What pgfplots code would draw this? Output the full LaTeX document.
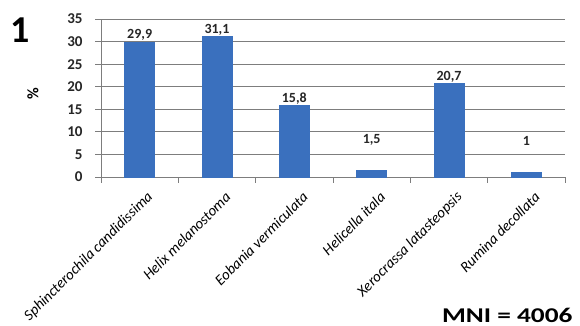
\documentclass[border=0pt]{standalone}
\usepackage{pgfplots}
\pgfplotsset{compat=1.18}
\usepackage{fontspec}
\setmainfont{Carlito}
\definecolor{barblue}{RGB}{58,112,190}
\definecolor{gridgray}{RGB}{125,125,125}
\begin{document}
\begin{tikzpicture}
\useasboundingbox (0,0) rectangle (580bp,326bp);
\begin{axis}[
  at={(101bp,149bp)}, anchor=south west,
  scale only axis, width=464bp, height=158bp,
  xmin=-0.5, xmax=5.5, ymin=0, ymax=35,
  ytick={0,5,...,35},
  ymajorgrids, grid style={gridgray, line width=1pt},
  axis x line*=bottom, axis y line*=left,
  axis line style={gridgray, line width=1pt},
  xtick={0,...,5},
  xticklabels={Sphincterochila candidissima, Helix melanostoma, Eobania vermiculata, Helicella itala, Xerocrassa latasteopsis, Rumina decollata},
  major x tick style={draw=none},
  minor xtick={-0.5,0.5,...,5.5},
  minor tick length=6bp,
  major tick length=6bp,
  tick style={gridgray, line width=1pt},
  xtick align=outside, ytick align=outside,
  xticklabel style={font=\fontsize{15bp}{16bp}\selectfont\itshape, rotate=45, anchor=east, xshift=3bp, yshift=-16bp},
  yticklabel style={font=\fontsize{15bp}{16bp}\selectfont\bfseries, color=black!85, anchor=east, xshift=-9bp},
  /pgf/number format/assume math mode=true,
  ybar, bar width=30bp,
  clip=false,
]
\addplot[fill=barblue, draw=barblue] coordinates {(0,29.9) (1,31.1) (2,15.8) (3,1.5) (4,20.7) (5,1)};
\addplot[draw=none, fill=none, only marks, mark=none,
  nodes near coords, point meta=explicit symbolic,
  nodes near coords style={font=\fontsize{14bp}{15bp}\selectfont\bfseries, color=black!85, anchor=south, yshift=-2bp}]
  coordinates {(0,29.9)[29,9] (1,31.1)[31,1] (2,15.8)[15,8] (3,6.6)[1,5] (4,20.7)[20,7] (5,6.6)[1]};
\end{axis}
\node[font=\fontsize{38bp}{40bp}\selectfont\bfseries] at (20bp,296bp) {1};
\node[font=\fontsize{16bp}{18bp}\selectfont\bfseries, rotate=90] at (33bp,232bp) {\%};
\node[font=\fontsize{21bp}{24bp}\selectfont\bfseries, anchor=east, xscale=1.3] at (577bp,11bp) {MNI = 4006};
\end{tikzpicture}
\end{document}
